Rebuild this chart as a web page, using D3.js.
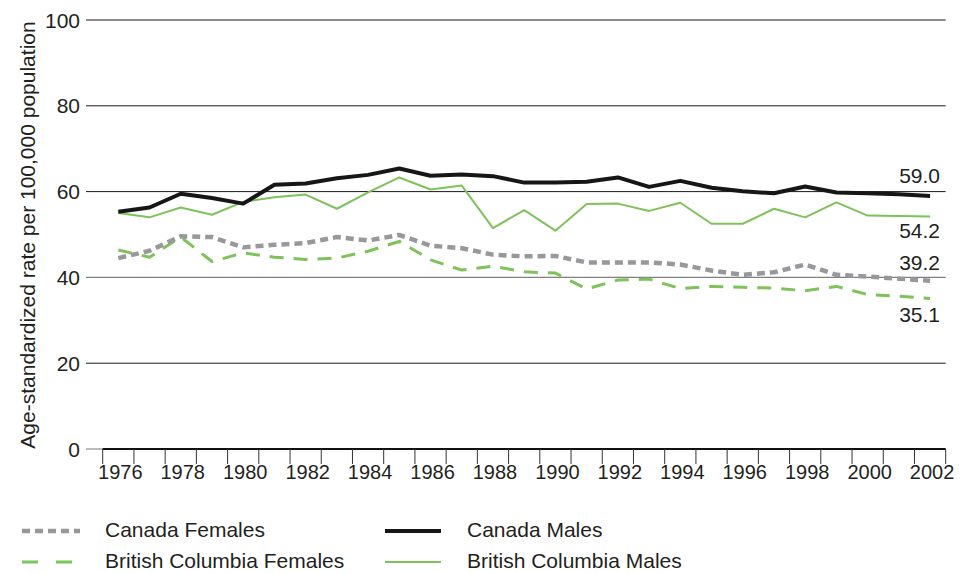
<!DOCTYPE html>
<html><head><meta charset="utf-8">
<script src="https://cdn.jsdelivr.net/npm/d3@7"></script>
<style>body{margin:0;background:#fff} svg{display:block}</style>
</head><body>
<svg id="c" width="962" height="573"></svg>
<script>
const years = [1976,1977,1978,1979,1980,1981,1982,1983,1984,1985,1986,1987,1988,1989,1990,1991,1992,1993,1994,1995,1996,1997,1998,1999,2000,2001,2002];
const canadaMales   = [55.3,56.3,59.5,58.5,57.2,61.6,61.9,63.1,63.9,65.4,63.7,64.0,63.6,62.1,62.1,62.3,63.3,61.1,62.5,60.9,60.1,59.6,61.2,59.8,59.6,59.4,59.0];
const bcMales       = [55.0,54.0,56.3,54.6,57.6,58.7,59.3,56.0,59.8,63.3,60.5,61.4,51.5,55.7,50.9,57.1,57.2,55.5,57.4,52.5,52.5,56.0,54.0,57.5,54.4,54.3,54.2];
const canadaFemales = [44.5,46.2,49.6,49.4,47.0,47.6,48.0,49.4,48.6,49.9,47.4,46.8,45.3,44.9,45.0,43.5,43.5,43.5,43.0,41.6,40.6,41.2,43.0,40.6,40.2,39.7,39.2];
const bcFemales     = [46.4,44.7,49.4,43.7,45.7,44.7,44.2,44.5,46.1,48.4,44.1,41.7,42.6,41.3,41.0,37.3,39.4,39.6,37.4,37.9,37.7,37.5,36.9,37.9,36.0,35.6,35.1];
const yTicks = [0,20,40,60,80,100];
const xTickLabels = [1976,1978,1980,1982,1984,1986,1988,1990,1992,1994,1996,1998,2000,2002];
const endLabels = ["59.0","54.2","39.2","35.1"];
const seriesNames = ["Canada Females","Canada Males","British Columbia Females","British Columbia Males"];

const svg = d3.select("#c");
const FONT = "'Liberation Sans', Arial, sans-serif";
const NARROW = "'Liberation Sans Narrow', 'Arial Narrow', sans-serif";

const x = d3.scaleBand().domain(years).range([102.7, 945.7]).padding(0);
const y = d3.scaleLinear().domain([0, 100]).range([449, 20]);
const cx = d => x(d) + x.bandwidth() / 2;

// gridlines
const g = svg.append("g");
yTicks.forEach(t => {
  if (t === 0) {
    g.append("line").attr("x1", 86).attr("x2", x.range()[0]).attr("y1", y(0)).attr("y2", y(0))
      .attr("stroke", "#777").attr("stroke-width", 1);
  } else {
    g.append("line").attr("x1", 86).attr("x2", x.range()[1]).attr("y1", y(t)).attr("y2", y(t))
      .attr("stroke", t === 40 ? "#808080" : "#1a1a1a").attr("stroke-width", t === 40 ? 1.4 : 1);
  }
  g.append("text").attr("x", 80).attr("y", y(t)).attr("dy", "0.36em")
    .attr("text-anchor", "end").attr("font-family", FONT).attr("font-size", 21).attr("fill", "#231f20")
    .text(t);
});

// x axis line
svg.append("line").attr("x1", x.range()[0]).attr("x2", x.range()[1]).attr("y1", y(0)).attr("y2", y(0))
  .attr("stroke", "#111").attr("stroke-width", 2);
// ticks at band edges
const edges = years.map(d => x(d)).concat([x.range()[1]]);
svg.append("g").selectAll("line").data(edges).join("line")
  .attr("x1", d => d).attr("x2", d => d).attr("y1", y(0)).attr("y2", y(0) + 15)
  .attr("stroke", "#333").attr("stroke-width", 1);
svg.append("g").selectAll("text").data(xTickLabels).join("text")
  .attr("x", d => cx(d) + 2).attr("y", 479).attr("text-anchor", "middle")
  .attr("font-family", NARROW).attr("font-size", 20).attr("fill", "#231f20").text(d => d);

// y title
svg.append("text").attr("transform", `translate(35,${(y(0) + 13) / 2 + 4}) rotate(-90)`)
  .attr("text-anchor", "middle").attr("font-family", FONT).attr("font-size", 21).attr("fill", "#231f20")
  .text("Age-standardized rate per 100,000 population");

const line = d3.line().x((d, i) => cx(years[i])).y(d => y(d));
const styles = {
  bcF: {data: bcFemales, stroke: "#7cc359", w: 3, dash: "14,10", ldash: "16,18", llen: 50},
  caF: {data: canadaFemales, stroke: "#98989c", w: 4.5, dash: "8,5", ldash: "8,5", llen: 58},
  bcM: {data: bcMales, stroke: "#7cc359", w: 2, dash: null, ldash: null, llen: 56},
  caM: {data: canadaMales, stroke: "#161616", w: 4, dash: null, ldash: null, llen: 56}
};
["bcF", "caF", "bcM", "caM"].forEach(k => {
  const s = styles[k];
  svg.append("path").datum(s.data).attr("d", line).attr("fill", "none")
    .attr("stroke", s.stroke).attr("stroke-width", s.w).attr("stroke-dasharray", s.dash)
    .attr("stroke-linejoin", "round");
});

// end labels
const last = years.length - 1;
const endVals = [canadaMales[last], bcMales[last], canadaFemales[last], bcFemales[last]];
const endOff = [-13, 22, -11, 24];
endLabels.forEach((t, i) => {
  svg.append("text").attr("x", 940).attr("y", y(endVals[i]) + endOff[i]).attr("text-anchor", "end")
    .attr("font-family", FONT).attr("font-size", 21).attr("fill", "#231f20").text(t);
});

// legend
const legend = [
  {name: seriesNames[0], s: styles.caF, lx: 22, tx: 105, ly: 531},
  {name: seriesNames[1], s: styles.caM, lx: 385, tx: 467, ly: 531},
  {name: seriesNames[2], s: styles.bcF, lx: 22, tx: 105, ly: 562},
  {name: seriesNames[3], s: styles.bcM, lx: 385, tx: 467, ly: 562}
];
legend.forEach(l => {
  svg.append("line").attr("x1", l.lx).attr("x2", l.lx + l.s.llen).attr("y1", l.ly).attr("y2", l.ly)
    .attr("stroke", l.s.stroke).attr("stroke-width", l.s.w).attr("stroke-dasharray", l.s.ldash);
  svg.append("text").attr("x", l.tx).attr("y", l.ly + 6).attr("font-family", FONT).attr("font-size", 21)
    .attr("fill", "#231f20").text(l.name);
});
</script>
</body></html>
